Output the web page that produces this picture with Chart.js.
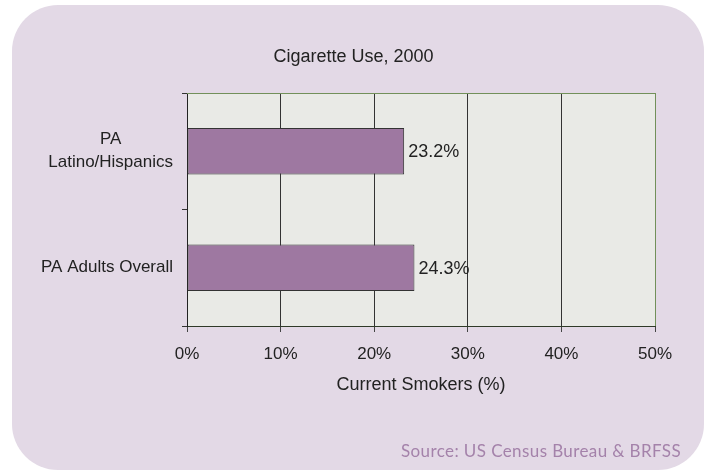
<!DOCTYPE html>
<html>
<head>
<meta charset="utf-8">
<script src="https://cdn.jsdelivr.net/npm/chart.js@4"></script>
<style>
  html, body { margin: 0; padding: 0; background: #fff; }
  canvas { display: block; }
</style>
</head>
<body>
<canvas id="chart" width="707" height="472"></canvas>
<script>
const categories = [['PA', 'Latino/Hispanics'], 'PA Adults Overall']
const smokers = [23.2, 24.3]
const xTicks = [0, 10, 20, 30, 40, 50]
const chartTitle = 'Cigarette Use, 2000'
const sourceNote = 'Source: US Census Bureau & BRFSS'

const FONT = '"Liberation Sans", Arial, sans-serif'
const INK = '#222'
const PANEL = '#e3d9e6'
const PLOT_BG = '#e9eae6'
const FRAME_GREEN = '#72905a'

// rounded panel + plot background
const backdrop = {
  id: 'backdrop',
  beforeDraw(chart) {
    const { ctx, chartArea: a } = chart
    ctx.save()
    ctx.fillStyle = '#fff'
    ctx.fillRect(0, 0, chart.width, chart.height)
    ctx.fillStyle = PANEL
    ctx.beginPath()
    ctx.roundRect(12, 5, 692, 465, 46)
    ctx.fill()
    ctx.fillStyle = PLOT_BG
    ctx.fillRect(a.left, a.top, a.right - a.left, a.bottom - a.top)
    ctx.restore()
  }
}

// value labels, y category labels, title, top frame line, source note
const extras = {
  id: 'extras',
  afterDatasetsDraw(chart) {
    const { ctx } = chart
    ctx.save()
    ctx.font = '18px ' + FONT
    ctx.fillStyle = INK
    ctx.textAlign = 'left'
    ctx.textBaseline = 'middle'
    chart.getDatasetMeta(0).data.forEach((bar, i) => {
      ctx.fillText(smokers[i].toFixed(1) + '%', bar.x + 4, bar.y + 1)
    })
    ctx.restore()
  },
  afterDraw(chart) {
    const { ctx, chartArea: a } = chart
    const yScale = chart.scales.y
    ctx.save()
    ctx.strokeStyle = FRAME_GREEN
    ctx.lineWidth = 1
    ctx.beginPath()
    ctx.moveTo(a.left, Math.round(a.top) + 0.5)
    ctx.lineTo(a.right, Math.round(a.top) + 0.5)
    ctx.stroke()

    ctx.fillStyle = INK
    ctx.textAlign = 'center'
    ctx.textBaseline = 'middle'
    ctx.font = '18px ' + FONT
    ctx.fillText(chartTitle, chart.width / 2, 57)

    ctx.font = '17px ' + FONT
    const rightEdge = a.left - 14
    categories.forEach((label, i) => {
      const lines = Array.isArray(label) ? label : [label]
      const y = yScale.getPixelForValue(i)
      const w = Math.max(...lines.map(l => ctx.measureText(l).width))
      lines.forEach((line, j) => {
        ctx.fillText(line, rightEdge - w / 2, y + (j - (lines.length - 1) / 2) * 23)
      })
    })

    ctx.font = '17px Lato, sans-serif'
    ctx.letterSpacing = '0.4px'
    ctx.fillStyle = '#a482aa'
    ctx.textAlign = 'right'
    ctx.fillText(sourceNote, 681, 452)
    ctx.restore()
  }
}

new Chart(document.getElementById('chart'), {
  type: 'bar',
  data: {
    labels: categories,
    datasets: [{
      label: 'Current Smokers (%)',
      data: smokers,
      backgroundColor: '#9e78a1',
      borderColor: '#333',
      borderWidth: 1,
      borderSkipped: false,
      barPercentage: 0.4,
      categoryPercentage: 1
    }]
  },
  options: {
    indexAxis: 'y',
    responsive: false,
    animation: false,
    layout: { padding: { top: 93, left: 0, right: 52, bottom: 76 } },
    plugins: {
      legend: { display: false },
      tooltip: { enabled: false },
      title: { display: false }
    },
    scales: {
      x: {
        type: 'linear',
        min: 0,
        max: 50,
        afterBuildTicks: s => { s.ticks = xTicks.map(v => ({ value: v })) },
        afterFit: s => { s.height = 70 },
        ticks: {
          color: INK,
          font: { family: FONT, size: 17 },
          padding: 12,
          callback: v => v + '%'
        },
        grid: {
          color: ctx => ctx.index === xTicks.length - 1 ? FRAME_GREEN : '#333',
          tickColor: '#444',
          tickLength: 6
        },
        border: { color: '#2f3a28' },
        title: {
          display: true,
          text: 'Current Smokers (%)',
          color: INK,
          font: { family: FONT, size: 18 },
          padding: { top: 0, bottom: 0 }
        }
      },
      y: {
        afterFit: s => { s.width = 187 },
        ticks: { display: false },
        grid: {
          drawOnChartArea: false,
          color: '#333',
          tickLength: 5
        },
        border: { color: '#222' }
      }
    }
  },
  plugins: [backdrop, extras]
})
</script>
</body>
</html>
